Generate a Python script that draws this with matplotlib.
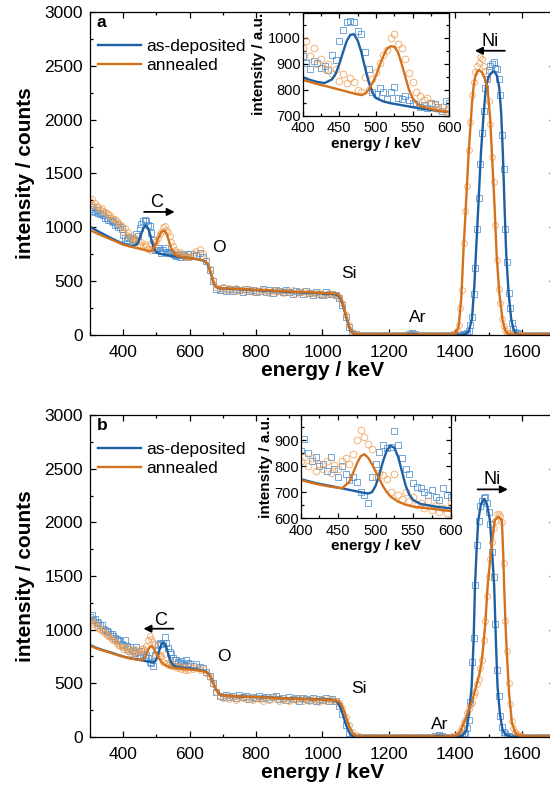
import numpy as np
import matplotlib
matplotlib.use("Agg")
import matplotlib.pyplot as plt
from matplotlib.lines import Line2D
from matplotlib.ticker import MultipleLocator

plt.rcParams["font.family"] = ["Liberation Sans", "DejaVu Sans"]

BLUE = "#1c5fa5"
ORANGE = "#d4711c"
BLUE_PT = "#4f8fce"
ORANGE_PT = "#ee9f55"

# channel energies (keV): fine below 600, coarse plateau, fine over the Ni peak
E_GRID = np.concatenate([np.arange(300, 601, 5), np.arange(610, 1391, 10),
                         np.arange(1400, 1601, 5), np.arange(1610, 1701, 10)])

# measured spectra (counts), panel a
DEP_A = [
    1170, 1190, 1150, 1140, 1160, 1130, 1120, 1135, 1110, 1090,
    1090, 1070, 1070, 1055, 1050, 1020, 1030, 1005, 1000, 980,
    930, 905, 880, 910, 905, 885, 890, 875, 935, 915,
    990, 1030, 1060, 1065, 1060, 1025, 1015, 945, 880, 790,
    785, 805, 790, 765, 790, 810, 770, 765, 775, 760,
    750, 745, 735, 740, 728, 750, 745, 735, 720, 755,
    750,
    735, 740, 760, 720, 690, 600, 500, 430, 420, 440,
    410, 425, 405, 430, 415, 400, 430, 405, 420, 395,
    410, 430, 400, 415, 390, 420, 405, 395, 415, 400,
    385, 410, 395, 380, 405, 390, 375, 400, 385, 370,
    395, 380, 385, 370, 340, 280, 170, 70, 20, 5,
    3, 0, 2, 0, 3, 1, 0, 2, 0, 1,
    3, 0, 2, 4, 3, 12, 15, 9, 3, 0,
    2, 1, 0, 2, 0, 1, 3, 0, 2,
    1, 2, 2, 4, 4, 6, 10, 20, 40, 95,
    170, 380, 620, 980, 1270, 1590, 1880, 2080, 2290, 2380,
    2460, 2500, 2520, 2540, 2480, 2470, 2380, 2230, 1860, 1540,
    980, 680, 390, 250, 110, 60, 30, 14, 8, 4,
    3,
    1, 2, 0, 1, 0, 2, 1, 0, 1, 0,
]
ANN_A = [
    1240, 1260, 1210, 1230, 1200, 1190, 1170, 1180, 1150, 1140,
    1130, 1120, 1110, 1090, 1080, 1075, 1060, 1040, 1030, 1010,
    960, 990, 930, 960, 900, 920, 880, 900, 860, 880,
    835, 860, 825, 845, 830, 800, 790, 850, 800, 840,
    870, 905, 935, 955, 1000, 1015, 975, 960, 920, 865,
    830, 790, 775, 760, 770, 745, 740, 725, 735, 720,
    725,
    760, 780, 800, 760, 700, 610, 510, 450, 430, 445,
    420, 440, 415, 435, 410, 430, 405, 425, 400, 420,
    395, 415, 405, 390, 420, 400, 410, 390, 405, 395,
    415, 385, 400, 410, 385, 400, 390, 380, 395, 385,
    375, 390, 380, 375, 355, 300, 190, 90, 30, 8,
    3, 1, 0, 2, 0, 3, 1, 0, 2, 0,
    1, 3, 0, 2, 1, 4, 6, 3, 1, 0,
    2, 0, 1, 3, 0, 2, 1, 4, 6,
    15, 40, 90, 250, 420, 850, 1150, 1380, 1720, 1980,
    2230, 2350, 2440, 2500, 2530, 2580, 2560, 2500, 2450, 2380,
    2170, 1960, 1650, 1420, 1020, 700, 430, 300, 150, 80,
    45, 22, 15, 6, 5, 3, 2, 1, 0, 2,
    1,
    0, 2, 0, 1, 0, 2, 0, 1, 0, 1,
]

# measured spectra (counts), panel b
DEP_B = [
    1120, 1140, 1090, 1100, 1070, 1060, 1040, 1045, 1010, 1000,
    990, 975, 960, 955, 940, 920, 910, 905, 890, 870,
    860, 905, 850, 820, 835, 800, 810, 780, 835, 790,
    760, 800, 770, 745, 760, 740, 700, 690, 660, 760,
    810, 855, 880, 870, 875, 935, 880, 830, 790, 770,
    735, 720, 715, 700, 690, 710, 680, 670, 715, 690,
    680,
    660, 680, 650, 640, 610, 570, 500, 420, 385, 375,
    395, 370, 385, 360, 390, 370, 380, 355, 375, 365,
    385, 360, 375, 350, 370, 380, 355, 365, 345, 370,
    355, 360, 340, 365, 350, 345, 365, 340, 355, 345,
    360, 340, 350, 335, 290, 210, 110, 40, 12, 4,
    2, 0, 1, 3, 0, 2, 0, 1, 2, 0,
    3, 1, 0, 2, 0, 1, 3, 0, 2, 1,
    0, 3, 2, 10, 14, 9, 2, 0, 3,
    1, 2, 2, 5, 8, 22, 40, 85, 160, 330,
    700, 920, 1420, 1790, 2010, 2150, 2200, 2230, 2240, 2180,
    2100, 1980, 1720, 1490, 1050, 620, 380, 200, 90, 50,
    25, 12, 6, 3, 2, 1, 0, 2, 1, 0,
    0,
    2, 0, 1, 0, 2, 0, 1, 0, 2, 0,
]
ANN_B = [
    1070, 1090, 1050, 1060, 1030, 1020, 1000, 1010, 980, 965,
    950, 945, 930, 910, 900, 895, 880, 860, 850, 840,
    820, 835, 800, 830, 780, 810, 790, 820, 775, 805,
    790, 820, 830, 810, 845, 900, 940, 910, 885, 865,
    760, 775, 765, 750, 700, 770, 690, 675, 700, 665,
    680, 650, 660, 640, 665, 630, 650, 625, 640, 620,
    660,
    630, 650, 620, 640, 600, 560, 490, 420, 380, 365,
    380, 355, 370, 345, 375, 360, 350, 370, 345, 365,
    350, 340, 360, 345, 370, 350, 340, 360, 345, 335,
    355, 345, 365, 340, 350, 335, 355, 345, 330, 350,
    340, 355, 345, 340, 320, 270, 190, 110, 45, 15,
    5, 2, 0, 1, 3, 0, 2, 0, 1, 2,
    0, 3, 1, 0, 2, 0, 1, 3, 0, 2,
    1, 0, 2, 3, 1, 0, 2, 4, 6,
    12, 22, 35, 60, 90, 130, 160, 220, 260, 300,
    320, 390, 420, 490, 540, 640, 720, 900, 1080, 1310,
    1500, 1660, 1820, 1950, 2010, 2080, 2080, 2060, 2000, 1620,
    1080, 800, 500, 310, 150, 85, 45, 25, 15, 8,
    5,
    2, 0, 1, 0, 2, 0, 1, 0, 2, 0,
]

# simulated spectra (energy keV, counts)
FIT_DEP_A = [
    (300, 1006), (320, 970), (340, 938), (360, 905), (380, 875), (400, 848), (410, 838),
    (420, 830), (430, 826), (440, 840), (445, 862), (450, 900), (455, 945), (460, 988),
    (465, 1012), (470, 1014), (475, 990), (480, 945), (485, 885), (490, 830), (495, 790),
    (500, 768), (510, 755), (520, 748), (540, 738), (560, 728), (580, 720), (600, 714),
    (620, 705), (640, 692), (648, 680), (655, 650), (660, 610), (665, 560), (670, 505),
    (675, 465), (680, 445), (690, 436), (700, 432), (750, 425), (800, 416), (850, 408),
    (900, 400), (950, 393), (1000, 386), (1030, 380), (1040, 376), (1045, 370), (1050, 355),
    (1055, 330), (1060, 290), (1065, 240), (1070, 180), (1075, 125), (1080, 75), (1085, 40),
    (1090, 18), (1100, 5), (1110, 2), (1250, 2), (1265, 12), (1275, 12), (1290, 2),
    (1420, 2), (1430, 8), (1440, 30), (1450, 150), (1457, 450), (1462, 760), (1470, 1250),
    (1477, 1690), (1485, 2050), (1492, 2300), (1500, 2400), (1510, 2440), (1517, 2450),
    (1525, 2410), (1532, 2300), (1538, 2060), (1543, 1690), (1548, 1200), (1553, 760),
    (1560, 400), (1568, 150), (1575, 55), (1582, 15), (1590, 5), (1600, 2), (1700, 2),
]
FIT_ANN_A = [
    (300, 975), (320, 945), (340, 918), (360, 892), (380, 866), (400, 838), (420, 822),
    (440, 808), (460, 793), (475, 782), (480, 780), (485, 785), (490, 800), (495, 825),
    (500, 855), (505, 895), (510, 930), (515, 958), (520, 968), (525, 966), (530, 945),
    (535, 900), (540, 850), (545, 800), (550, 768), (555, 750), (560, 738), (580, 722),
    (600, 714), (620, 706), (640, 693), (648, 682), (655, 655), (660, 615), (665, 565),
    (670, 510), (675, 470), (680, 448), (690, 438), (700, 434), (750, 428), (800, 420),
    (850, 413), (900, 405), (950, 398), (1000, 391), (1040, 384), (1045, 380), (1050, 368),
    (1055, 345), (1060, 305), (1065, 255), (1070, 195), (1075, 140), (1080, 88), (1085, 50),
    (1090, 25), (1100, 8), (1110, 3), (1400, 3), (1410, 80), (1418, 350), (1424, 758),
    (1430, 1100), (1440, 1690), (1450, 2150), (1455, 2310), (1460, 2400), (1465, 2445),
    (1472, 2460), (1480, 2440), (1490, 2370), (1497, 2290), (1505, 2000), (1510, 1690),
    (1518, 1200), (1524, 760), (1532, 400), (1542, 140), (1550, 45), (1556, 15), (1570, 3),
    (1700, 3),
]
FIT_DEP_B = [
    (300, 857), (320, 830), (340, 808), (360, 790), (380, 770), (400, 750), (420, 735),
    (440, 724), (460, 712), (480, 700), (490, 695), (495, 700), (500, 725), (505, 770),
    (510, 820), (515, 862), (520, 878), (525, 870), (530, 835), (535, 780), (540, 725),
    (545, 690), (550, 670), (560, 655), (580, 645), (600, 638), (620, 630), (640, 618),
    (650, 605), (658, 585), (665, 550), (672, 495), (680, 440), (688, 405), (695, 390),
    (710, 382), (750, 378), (800, 372), (850, 366), (900, 360), (950, 355), (1000, 350),
    (1030, 345), (1040, 338), (1045, 325), (1050, 300), (1055, 265), (1060, 220),
    (1065, 170), (1070, 120), (1075, 80), (1080, 45), (1085, 22), (1090, 10), (1100, 3),
    (1330, 3), (1345, 12), (1360, 12), (1370, 3), (1410, 3), (1422, 15), (1434, 65),
    (1442, 250), (1449, 470), (1455, 900), (1459, 1400), (1464, 1750), (1469, 2020),
    (1477, 2170), (1487, 2218), (1495, 2170), (1504, 2020), (1510, 1750), (1517, 1400),
    (1522, 900), (1527, 470), (1534, 220), (1542, 65), (1552, 20), (1567, 3), (1700, 3),
]
FIT_ANN_B = [
    (300, 850), (320, 825), (340, 805), (360, 786), (380, 766), (400, 747), (420, 732),
    (440, 721), (455, 715), (465, 740), (470, 775), (475, 810), (480, 838), (485, 846),
    (490, 832), (495, 808), (500, 779), (505, 750), (510, 722), (515, 700), (520, 683),
    (530, 664), (540, 652), (550, 645), (570, 638), (600, 628), (620, 622), (640, 612),
    (650, 600), (658, 582), (665, 548), (672, 495), (680, 442), (688, 407), (695, 392),
    (710, 384), (750, 378), (800, 372), (850, 365), (900, 358), (950, 352), (1000, 348),
    (1040, 342), (1050, 330), (1055, 310), (1060, 280), (1065, 240), (1070, 195),
    (1075, 150), (1080, 105), (1085, 70), (1090, 42), (1095, 22), (1100, 12), (1110, 4),
    (1390, 4), (1400, 10), (1410, 30), (1417, 65), (1428, 150), (1440, 252), (1450, 330),
    (1457, 407), (1465, 500), (1472, 580), (1478, 680), (1482, 780), (1490, 1050),
    (1497, 1400), (1502, 1560), (1507, 1712), (1513, 1880), (1519, 2022), (1529, 2053),
    (1540, 2022), (1544, 1712), (1547, 1400), (1551, 1050), (1555, 780), (1562, 400),
    (1570, 139), (1580, 40), (1592, 12), (1610, 4), (1700, 4),
]

# element labels: (text, energy, counts)
LABELS_A = [("O", 688, 808), ("Si", 1079, 570), ("Ar", 1288, 167)]
LABELS_B = [("O", 702, 748), ("Si", 1110, 453), ("Ar", 1352, 121)]
# shift arrows: (text, text pos, arrow start, arrow end)
ARROWS_A = [("C", (500, 1227), (463, 1143), (555, 1143)),
            ("Ni", (1504, 2723), (1549, 2640), (1459, 2640))]
ARROWS_B = [("C", (512, 1090), (551, 1009), (461, 1009)),
            ("Ni", (1510, 2395), (1467, 2307), (1558, 2307))]

for series in (DEP_A, ANN_A, DEP_B, ANN_B):
    if len(series) != len(E_GRID):
        raise ValueError(f"length {len(series)} != {len(E_GRID)}")


def draw_spectra(ax, dep, ann, fit_dep, fit_ann, ms):
    ax.plot(E_GRID, dep, ls="none", marker="s", ms=ms, mfc="none", mec=BLUE_PT,
            mew=0.7, alpha=0.8)
    ax.plot(E_GRID, ann, ls="none", marker="o", ms=ms, mfc="none", mec=ORANGE_PT,
            mew=0.7, alpha=0.8)
    fd = np.array(fit_dep)
    fa = np.array(fit_ann)
    ax.plot(fd[:, 0], fd[:, 1], color=BLUE, lw=1.7)
    ax.plot(fa[:, 0], fa[:, 1], color=ORANGE, lw=1.7)


def style_ticks(ax, size, xpad, ypad, major=4, minor=2.5):
    ax.tick_params(which="both", direction="in", top=True, right=True,
                   labelsize=size, width=0.9)
    ax.tick_params(which="major", length=major)
    ax.tick_params(which="minor", length=minor)
    ax.tick_params(axis="x", pad=xpad)
    ax.tick_params(axis="y", pad=ypad)
    for s in ax.spines.values():
        s.set_linewidth(0.9)


fig = plt.figure(figsize=(5.5, 7.94), dpi=100)

panels = [
    ("a", [0.1636, 0.5781, 0.8455, 0.4068], [0.5504, 0.8543, 0.2665, 0.1293], (700, 1096),
     DEP_A, ANN_A, FIT_DEP_A, FIT_ANN_A, LABELS_A, ARROWS_A),
    ("b", [0.1636, 0.0718, 0.8455, 0.4055], [0.5467, 0.3472, 0.2727, 0.1301], (600, 996),
     DEP_B, ANN_B, FIT_DEP_B, FIT_ANN_B, LABELS_B, ARROWS_B),
]

for tag, rect, irect, iylim, dep, ann, fdep, fann, labels, arrows in panels:
    ax = fig.add_axes(rect)
    draw_spectra(ax, dep, ann, fdep, fann, ms=4.2)
    ax.set_xlim(300, 1700)
    ax.set_ylim(0, 3000)
    ax.xaxis.set_major_locator(MultipleLocator(200))
    ax.xaxis.set_minor_locator(MultipleLocator(100))
    ax.yaxis.set_major_locator(MultipleLocator(500))
    ax.yaxis.set_minor_locator(MultipleLocator(250))
    ax.set_xticks([400, 600, 800, 1000, 1200, 1400, 1600])
    style_ticks(ax, 12.5, xpad=7, ypad=5)
    ax.set_xlabel("energy / keV", fontsize=15, fontweight="bold", labelpad=1)
    ax.set_ylabel("intensity / counts", fontsize=15, fontweight="bold", labelpad=7)

    ax.text(0.015, 0.968, tag, transform=ax.transAxes, fontsize=12.5,
            fontweight="bold", ha="left", va="center")
    handles = [Line2D([], [], color=BLUE, lw=1.7), Line2D([], [], color=ORANGE, lw=1.7)]
    ax.legend(handles, ["as-deposited", "annealed"], loc="upper left",
              bbox_to_anchor=(-0.005, 0.95), frameon=False, fontsize=12.5,
              handlelength=2.5, handletextpad=0.3, labelspacing=0.25, borderaxespad=0.2)

    for txt, x, y in labels:
        ax.text(x, y, txt, fontsize=12.5, ha="center", va="center")
    for txt, tpos, start, end in arrows:
        ax.text(tpos[0], tpos[1], txt, fontsize=13, ha="center", va="center")
        ax.annotate("", xy=end, xytext=start,
                    arrowprops=dict(arrowstyle="-|>", color="black", lw=1.3,
                                    mutation_scale=11, shrinkA=0, shrinkB=0))

    ins = fig.add_axes(irect)
    ins.set_facecolor("white")
    draw_spectra(ins, dep, ann, fdep, fann, ms=4.8)
    ins.set_xlim(400, 600)
    ins.set_ylim(*iylim)
    ins.xaxis.set_major_locator(MultipleLocator(50))
    ins.xaxis.set_minor_locator(MultipleLocator(25))
    ins.yaxis.set_major_locator(MultipleLocator(100))
    ins.yaxis.set_minor_locator(MultipleLocator(50))
    style_ticks(ins, 10.5, xpad=4, ypad=1.5, major=3.5, minor=2)
    ins.set_xlabel("energy / keV", fontsize=11, fontweight="bold", labelpad=1)
    ins.set_ylabel("intensity / a.u.", fontsize=11, fontweight="bold", labelpad=1)

fig.savefig("out.png", dpi=100)
